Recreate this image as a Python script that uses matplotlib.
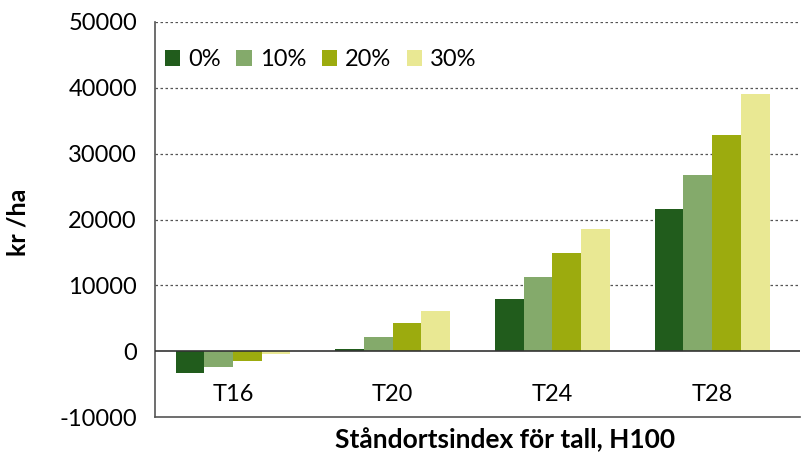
import matplotlib
matplotlib.use("Agg")
import matplotlib.pyplot as plt
import numpy as np
from matplotlib.transforms import blended_transform_factory

categories = ["T16", "T20", "T24", "T28"]
series_names = ["0%", "10%", "20%", "30%"]
v0 = [-3300, 400, 8000, 21600]
v10 = [-2400, 2100, 11200, 26800]
v20 = [-1500, 4300, 14900, 32800]
v30 = [-500, 6100, 18500, 39000]
series = [v0, v10, v20, v30]
colors = ["#215C1C", "#84AA6B", "#9CAB0E", "#E9E893"]
yticks = [-10000, 0, 10000, 20000, 30000, 40000, 50000]

plt.rcParams['font.family'] = ['Lato', 'DejaVu Sans']

fig = plt.figure(figsize=(8.04, 4.53), dpi=100)
ax = fig.add_axes([155/804, 1-417/453, (800-155)/804, (417-22)/453])

x = np.arange(len(categories))
w = 0.18
for i, (vals, c, n) in enumerate(zip(series, colors, series_names)):
    ax.bar(x + (i - 1.5) * w, vals, w, color=c, label=n, zorder=3)

ax.set_ylim(-10000, 50000)
ax.set_xlim(-0.4885, 3.551)
ax.set_yticks(yticks)
ax.set_yticklabels([str(t) for t in yticks], fontsize=17)
ax.tick_params(axis='y', length=0, pad=13)
ax.set_xticks([])
for t in [10000, 20000, 30000, 40000, 50000]:
    ax.axhline(t, color='#555555', lw=0.9, ls=(0, (2, 2)), zorder=1)
ax.axhline(0, color='#333333', lw=1.2, zorder=4)

for s in ['top', 'right']:
    ax.spines[s].set_visible(False)
ax.spines['left'].set_color('#555555')
ax.spines['bottom'].set_color('#555555')
ax.spines['left'].set_linewidth(1.2)
ax.spines['bottom'].set_linewidth(1.2)

trans = blended_transform_factory(ax.transData, ax.transData)
for xi, cat in zip(x, categories):
    ax.text(xi, -6600, cat, ha='center', va='center', fontsize=17, transform=trans)

ax.legend(loc='upper left', bbox_to_anchor=(-0.018, 0.985), ncol=4, frameon=False,
          fontsize=17, handlelength=0.65, handleheight=0.65, handletextpad=0.35,
          columnspacing=0.65)

fig.text(505/804, 1-440/453, "Ståndortsindex för tall, H100", ha='center', va='center',
         fontsize=19, fontweight='bold')
fig.text(18/804, 1-222/453, "kr /ha", ha='center', va='center', rotation=90,
         fontsize=18, fontweight='bold')

fig.savefig("out.png", dpi=100)
